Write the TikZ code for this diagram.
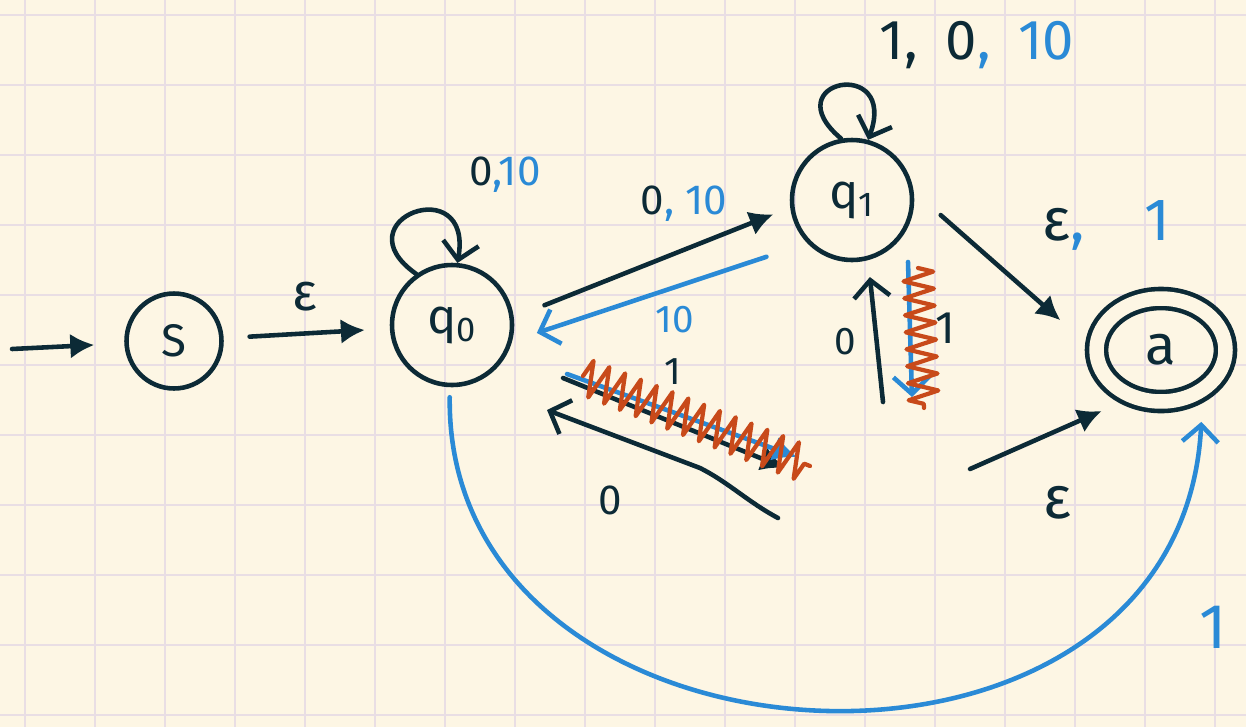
\documentclass[tikz,border=0pt]{standalone}
\usepackage{fontspec}
\setmainfont{Fira Sans}
\usepackage{tikz}
\usetikzlibrary{arrows.meta,positioning,calc,shapes.geometric,decorations.pathmorphing}

\definecolor{paper}{RGB}{253,246,228}
\definecolor{gridline}{RGB}{233,222,228}
\definecolor{ink}{RGB}{12,42,54}
\definecolor{inkblue}{RGB}{42,138,214}
\definecolor{scribble}{RGB}{200,74,26}

\begin{document}
\begin{tikzpicture}[x=0.02cm, y=-0.02cm,
    inkline/.style={draw=ink, line width=2.6pt, line cap=round, line join=round},
    blueline/.style={draw=inkblue, line width=2.6pt, line cap=round, line join=round},
    tri/.style={-{Latex[length=0.48cm, width=0.5cm]}},
    barb/.style={-{Straight Barb[length=0.34cm, width=0.72cm]}},
    state/.style={circle, draw=ink, line width=2.6pt, minimum size=2.4cm, inner sep=0pt, text=ink, font=\fontsize{28}{32}\selectfont},
    finalstate/.style={ellipse, draw=ink, line width=2.6pt, double=paper, double distance=0.29cm, minimum width=2.58cm, minimum height=2.06cm, inner sep=0pt, text=ink, font=\fontsize{32}{36}\selectfont},
    lbl/.style={text=ink, inner sep=0pt, font=\fontsize{24}{28}\selectfont},
    scrib/.style={draw=scribble, line width=2.4pt, line cap=round, line join=round, decorate, decoration={zigzag, segment length=0.34cm, amplitude=0.36cm}}]
    % paper
    \useasboundingbox (0,0) rectangle (1246,727);
    \fill[paper] (0,0) rectangle (1246,727);
    \foreach \gx in {25,95,...,1215} \draw[gridline, line width=0.7pt] (\gx,0) -- (\gx,727);
    \foreach \gy in {15,85,...,715} \draw[gridline, line width=0.7pt] (0,\gy) -- (1246,\gy);

    % states
    \node[state, minimum size=1.9cm, font=\fontsize{26}{30}\selectfont] (s) at (174,341) {S};
    \node[state] (q0) at (452,325) {q\textsubscript{0}};
    \node[state] (q1) at (852,200) {q\textsubscript{1}};
    \node[finalstate] (a) at (1161,350) {a};

    % start, epsilon
    \coordinate (init) at (12,349);
    \draw[inkline, tri, shorten >=0.6cm] (init) -- (s);
    \draw[inkline, tri, shorten <=0.52cm, shorten >=0.5cm] (s) -- (q0);
    \node[lbl, font=\fontsize{30}{34}\selectfont] (eps1) at (305,297) {ε};

    % loops
    \draw[inkline, barb] (q0.125) .. controls +(145:1.9cm) and +(80:1.9cm) .. (q0.85);
    \node[lbl] (loop0) at (505,175) {0\textcolor{inkblue}{,10}};
    \draw[inkline, barb] (q1.100) .. controls +(140:1.8cm) and +(70:1.8cm) .. (q1.75);
    \node[lbl, font=\fontsize{32}{36}\selectfont] (loop1) at (977,45) {1,\hspace{0.5em}0\textcolor{inkblue}{,\hspace{0.5em}10}};

    % q0 <-> q1
    \draw[inkline, tri, shorten <=0.66cm, shorten >=0.36cm] (q0.7) -- (q1.187);
    \node[lbl] (l01) at (684,204) {0\textcolor{inkblue}{,\ 10}};
    \draw[blueline, barb, shorten <=0.86cm, shorten >=0.52cm] (q1.224) -- (q0.345);
    \node[lbl, text=inkblue, font=\fontsize{22}{26}\selectfont] (l10) at (675,320) {10};

    % q1 -> a
    \draw[inkline, tri, shorten <=0.72cm, shorten >=0.9cm] (q1.8) -- (a.180);
    \node[lbl, font=\fontsize{34}{38}\selectfont] (l1a) at (1106,225) {ε\textcolor{inkblue}{,\hspace{1em}1}};

    % below q1
    \coordinate (zerofrom) at (883,402);
    \draw[inkline, barb, shorten >=0.34cm] (zerofrom) -- (q1.-75);
    \node[lbl, font=\fontsize{22}{26}\selectfont] (lzero) at (845,342) {0};
    \coordinate (onefrom) at (908,262);
    \coordinate (oneto) at (912,397);
    \draw[blueline, barb] (onefrom) -- (oneto);
    \node[lbl, font=\fontsize{26}{30}\selectfont] (lone) at (945,328) {1};

    % diagonal from q0
    \coordinate (diagfrom) at (563,378);
    \coordinate (diagto) at (785,468);
    \coordinate (bdiagfrom) at (567,374);
    \coordinate (bdiagto) at (797,457);
    \draw[inkline, tri] (diagfrom) -- (diagto);
    \draw[blueline, tri] (bdiagfrom) -- (bdiagto);
    \node[lbl, font=\fontsize{22}{26}\selectfont] (ldiag) at (673,372) {1};

    \coordinate (backfrom) at (778,518);
    \coordinate (backbend) at (700,468);
    \coordinate (backto) at (547,410);
    \draw[inkline, barb] (backfrom) .. controls (748,502) and (728,482) .. (backbend) -- (backto);
    \node[lbl] (lback) at (610,500) {0};

    % epsilon into a
    \coordinate (epsin) at (970,469);
    \draw[inkline, tri, shorten >=0.64cm] (epsin) -- (a.238);
    \node[lbl, font=\fontsize{34}{38}\selectfont] (eps2) at (1057,503) {ε};

    % q0 round to a
    \draw[blueline, barb, shorten <=0.2cm, shorten >=0.6cm] (q0.-92) .. controls (445,790) and (1180,830) .. (a.-45);
    \node[lbl, text=inkblue, font=\fontsize{36}{40}\selectfont] (lbig) at (1213,627) {1};

    % crossed out
    \coordinate (scribA) at (583,376);
    \coordinate (scribB) at (810,466);
    \draw[scrib] (scribA) -- (scribB);
    \coordinate (scribC) at (918,268);
    \coordinate (scribD) at (924,408);
    \draw[scrib, decoration={zigzag, segment length=0.34cm, amplitude=0.3cm}] (scribC) -- (scribD);
\end{tikzpicture}
\end{document}
